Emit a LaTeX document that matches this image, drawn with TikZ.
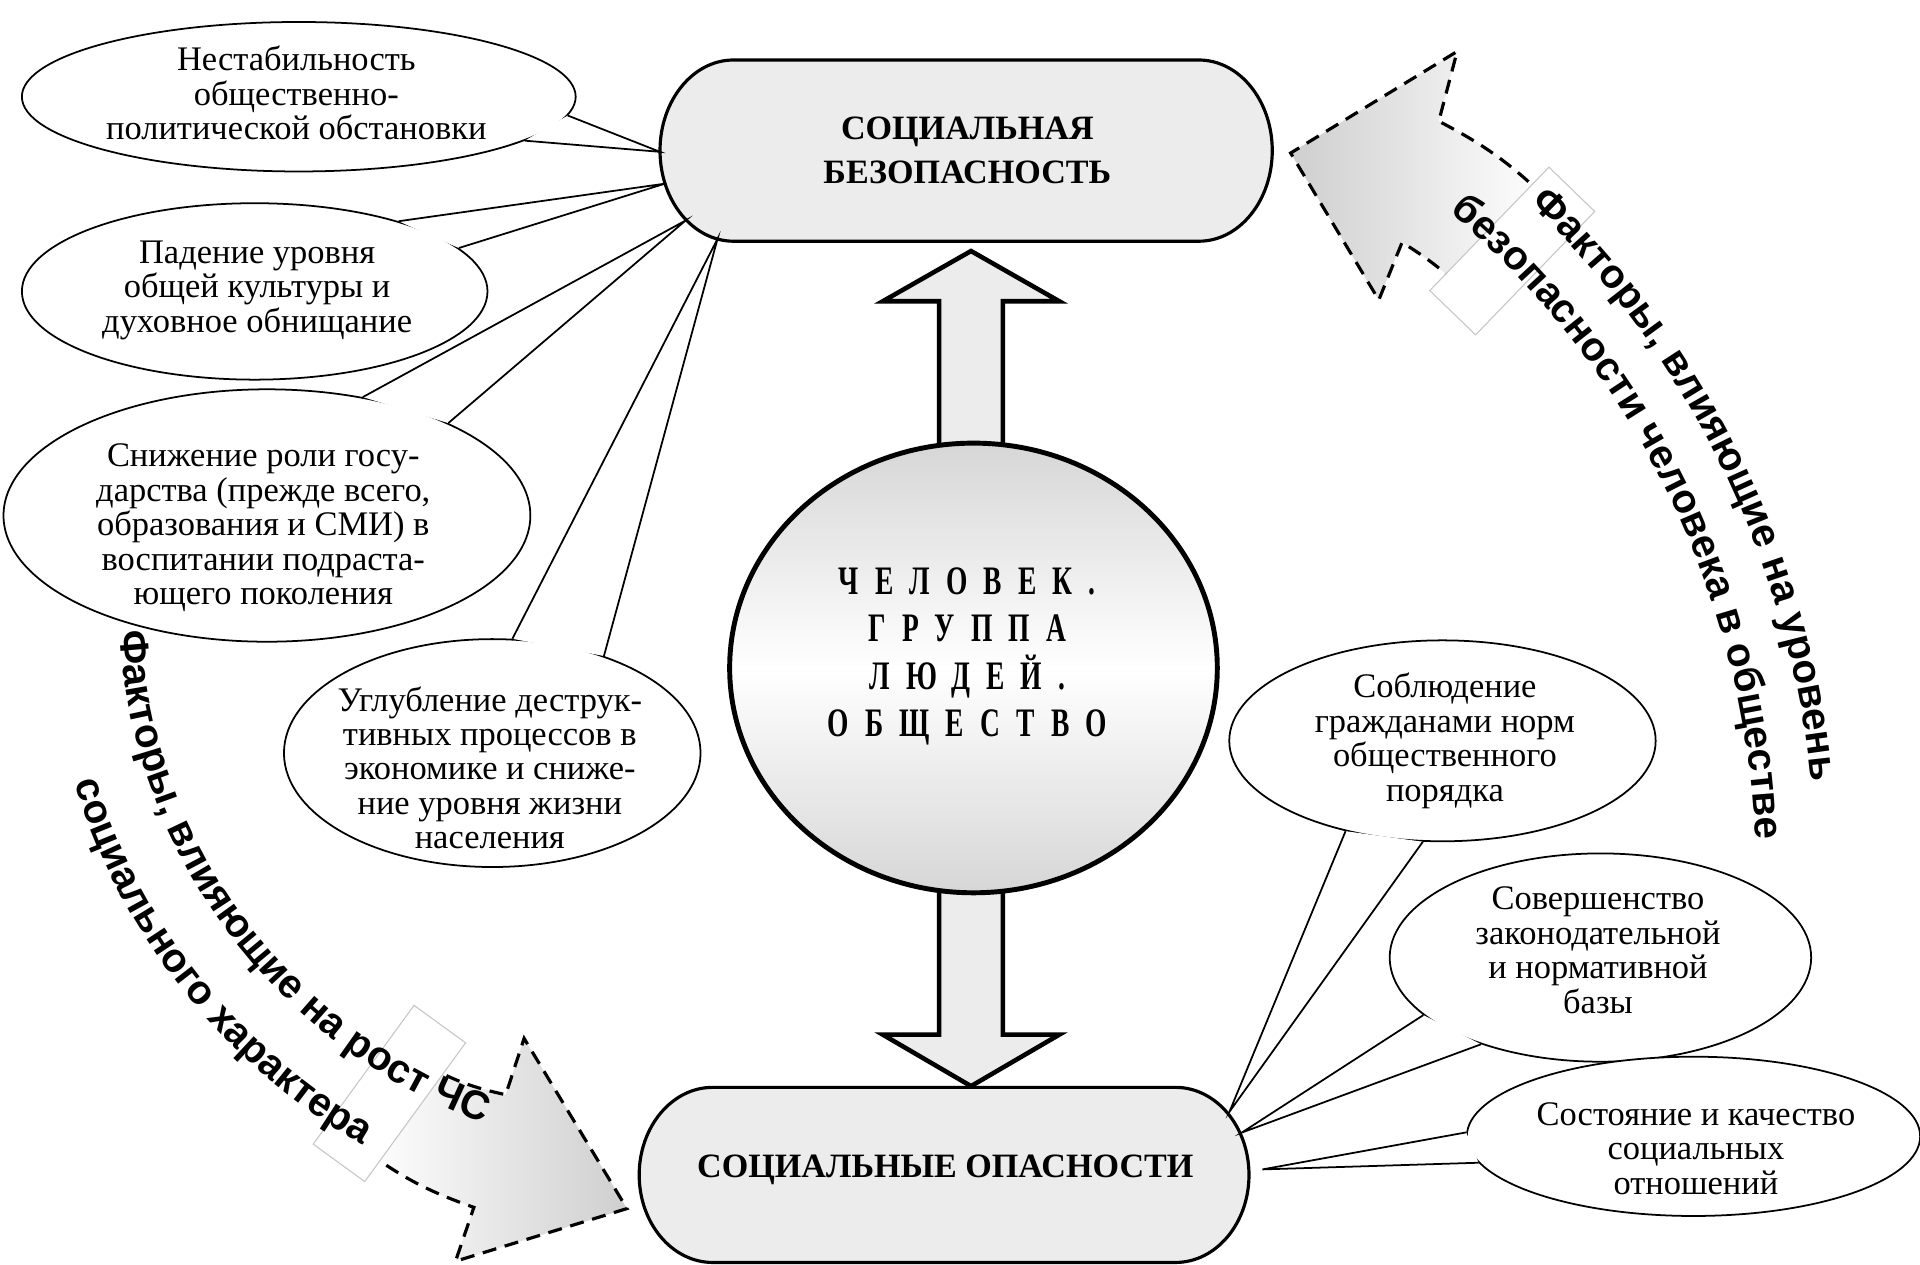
\documentclass[tikz,border=0pt]{standalone}
\usepackage{fontspec}
\setmainfont{Liberation Serif}
\newfontfamily\arcfam{Liberation Sans}
\usetikzlibrary{shapes.geometric,decorations.text}
\newcommand\U{0.348405pt}
\newcommand\arcfont{\arcfam\bfseries\fontsize{11.5}{13}\selectfont}
\newcommand\ctrfont{\fontsize{11.5}{13.5}\selectfont\bfseries\addfontfeatures{LetterSpace=40,FakeStretch=0.68}}
\newcommand\elfont{\fontsize{9.8}{9.8}\selectfont}
\newcommand\calltail[4]{%
  \fill[white] (#1.#2) -- (#4) -- (#1.#3) -- cycle;
  \draw[tailline] (#1.#2) -- (#4) -- (#1.#3);}
\begin{document}
\begin{tikzpicture}[x=0.012245cm,y=0.012245cm,
  callout/.style={ellipse, draw, fill=white, line width=0.5pt, inner sep=0pt},
  ctext/.style={align=center, font=\elfont, inner sep=0pt},
  bigbox/.style={draw=none, inner sep=0pt, align=center, font=\fontsize{9.7}{12.5}\selectfont\bfseries},
  boxline/.style={draw, line width=0.9pt, fill=gray!15},
  fatarrow/.style={draw, line width=1.3pt, fill=gray!15, line join=miter},
  curvarrow/.style={draw, line width=0.9pt, dash pattern=on 4pt off 2.5pt},
  tagrect/.style={draw=gray!45, line width=0.3pt, fill=white, minimum width=52*\U, minimum height=140*\U, inner sep=0pt},
  tailline/.style={line width=0.5pt},
  arctext/.style={decorate, decoration={text along path, text align=center, text={|\arcfont|#1}}},
]
\useasboundingbox (0,0) rectangle (1568,1033);
\fill[white] (0,0) rectangle (1568,1033);

% ---------- curved dashed arrows ----------
\coordinate (cR) at (727,320);
\coordinate (cL) at (551,542);
\path[curvarrow, left color=gray!38, right color=white]
  (1262,872) to[bend right=8] (1175,934) -- (1190,991) -- (1054,908) -- (1126,788) -- (1145,835) to[bend left=8] (1205,785) -- cycle;
\node[tagrect, rotate=-44] (tagR) at (1235,828) {};
\path[arctext={Факторы, влияющие на уровень}] ([shift={(63:756)}]cR) arc[start angle=63, end angle=-11, radius=756];
\path[arctext={безопасности человека в обществе}] ([shift={(63:707)}]cR) arc[start angle=63, end angle=-11, radius=707];

\path[curvarrow, left color=white, right color=gray!38]
  (348,163) to[bend right=8] (413,139) -- (428,185) -- (512,46) -- (372,3) -- (387,47) to[bend left=8] (300,92) -- cycle;
\node[tagrect, rotate=-36] (tagL) at (318,140) {};
\path[arctext={Факторы, влияющие на рост ЧС}] ([shift={(169:454)}]cL) arc[start angle=169, end angle=264, radius=454];
\path[arctext={социального характера}] ([shift={(171:512)}]cL) arc[start angle=171, end angle=266, radius=512];

% ---------- double block arrow ----------
\path[fatarrow] (767,600) -- (767,787) -- (721,787) -- (793,828) -- (865,787) -- (819,787) -- (819,600) -- cycle;
\path[fatarrow] (767,400) -- (767,188) -- (721,188) -- (793,146) -- (865,188) -- (819,188) -- (819,400) -- cycle;

% ---------- central ellipse ----------
\node[ellipse, draw, line width=1.4pt, minimum width=398*\U, minimum height=367*\U, inner sep=0pt,
      top color=gray!32, bottom color=gray!32, middle color=white] (Ctr) at (795,487.5) {};
\node[align=center, inner sep=0pt, font=\ctrfont] (CtrT) at (790,497) {ЧЕЛОВЕК.\\ГРУППА\\ЛЮДЕЙ.\\ОБЩЕСТВО};

% ---------- top and bottom boxes ----------
\path[boxline] (599,984) -- (979,984) arc[start angle=90, end angle=-90, x radius=60, y radius=74]
  -- (599,836) arc[start angle=270, end angle=90, x radius=60, y radius=74] -- cycle;
\node[bigbox] (R1) at (790,910) {СОЦИАЛЬНАЯ\\БЕЗОПАСНОСТЬ};
\path[boxline] (582,145) -- (960,145) arc[start angle=90, end angle=-90, x radius=60, y radius=71.5]
  -- (582,2) arc[start angle=270, end angle=90, x radius=60, y radius=71.5] -- cycle;
\node[bigbox] (R2) at (772,78) {СОЦИАЛЬНЫЕ ОПАСНОСТИ};

% tail tips on the boxes
\coordinate (tA) at (539,909);
\coordinate (tB) at (543,883);
\coordinate (tC) at (560,853);
\coordinate (tD) at (586,838);
\coordinate (tE1) at (1004,125);
\coordinate (tE2) at (1014,108);
\coordinate (tE3) at (1031,78);

% ---------- callouts left ----------
\node[callout, minimum width=452*\U, minimum height=122*\U] (A) at (244,954) {};
\calltail{A}{-4.7}{-11.8}{tA}
\node[ctext] (At) at (242,957) {Нестабильность\\общественно-\\политической обстановки};

\node[callout, minimum width=380*\U, minimum height=144*\U] (B) at (208,795) {};
\calltail{B}{26}{12.4}{tB}
\node[ctext] (Bt) at (210,796) {Падение уровня\\общей культуры и\\духовное обнищание};

\node[callout, minimum width=430*\U, minimum height=206*\U] (C) at (218,612) {};
\calltail{C}{51.7}{27.2}{tC}
\node[ctext] (Ct) at (215,602) {Снижение роли госу-\\дарства (прежде всего,\\образования и СМИ) в\\воспитании подраста-\\ющего поколения};

\node[callout, minimum width=340*\U, minimum height=186*\U] (D) at (402,418) {};
\calltail{D}{80.8}{41.3}{tD}
\node[ctext] (Dt) at (400,406) {Углубление деструк-\\тивных процессов в\\экономике и сниже-\\ние уровня жизни\\населения};

% ---------- callouts right ----------
\node[callout, minimum width=348*\U, minimum height=164*\U] (E1) at (1178,428) {};
\calltail{E1}{223.9}{259.6}{tE1}
\node[ctext] (E1t) at (1180,428) {Соблюдение\\гражданами норм\\общественного\\порядка};

\node[callout, minimum width=344*\U, minimum height=170*\U] (E2) at (1307,251) {};
\calltail{E2}{198.7}{216.1}{tE2}
\node[ctext] (E2t) at (1305,257) {Совершенство\\законодательной\\и нормативной\\базы};

\node[callout, minimum width=370*\U, minimum height=130*\U] (E3) at (1383,105) {};
\calltail{E3}{179.4}{187.2}{tE3}
\node[ctext] (E3t) at (1385,95) {Состояние и качество\\социальных\\отношений};
\end{tikzpicture}
\end{document}
